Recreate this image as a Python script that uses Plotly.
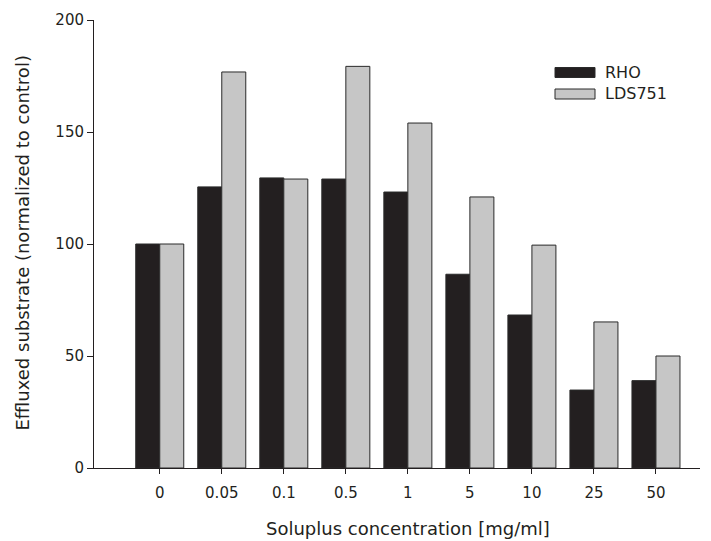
import plotly.graph_objects as go

categories = ["0", "0.05", "0.1", "0.5", "1", "5", "10", "25", "50"]
rho = [100, 125.5, 129.5, 129, 123.2, 86.5, 68.3, 34.8, 39]
lds751 = [100, 176.8, 129, 179.3, 154, 121, 99.5, 65.2, 50]
series_names = ["RHO", "LDS751"]
colors = ["#231f20", "#c6c6c6"]

fig = go.Figure()
for name, vals, col in zip(series_names, [rho, lds751], colors):
    fig.add_trace(go.Bar(
        x=categories, y=vals, name=name,
        marker=dict(color=col, line=dict(color="#2a2a2a", width=1)),
        showlegend=False,
    ))

font_family = "DejaVu Sans, Verdana, sans-serif"
# page body has an 8px margin, so the figure is offset by 8px
fig.update_layout(
    width=703, height=533,
    margin=dict(l=86, r=11, t=12, b=73, autoexpand=False),
    paper_bgcolor="white", plot_bgcolor="white",
    barmode="group", bargap=0.226, bargroupgap=0,
    font=dict(family=font_family, size=15, color="#231f20"),
    xaxis=dict(
        type="category", range=[-1.06, 8.71], automargin=False,
        showline=True, linecolor="#231f20", linewidth=1,
        ticks="outside", ticklen=5, tickcolor="#231f20",
        ticklabelstandoff=6,
        showgrid=False, zeroline=False,
    ),
    yaxis=dict(
        range=[0, 200], tickvals=[0, 50, 100, 150, 200], automargin=False,
        showline=True, linecolor="#231f20", linewidth=1,
        ticks="outside", ticklen=6, tickcolor="#231f20",
        showgrid=False, zeroline=False,
    ),
)

def px(x):
    return (x - 94) / 606

def py(y):
    return (468 - y) / 448

# axis titles
fig.add_annotation(xref="paper", yref="paper", x=px(408), y=py(528),
                   text="Soluplus concentration [mg/ml]", showarrow=False,
                   xanchor="center", yanchor="middle", font=dict(size=18))
fig.add_annotation(xref="paper", yref="paper", x=px(22), y=py(243.5),
                   text="Effluxed substrate (normalized to control)", showarrow=False,
                   textangle=-90, xanchor="center", yanchor="middle", font=dict(size=18))

# manual legend
leg_y = [72.5, 94]
for name, col, yc in zip(series_names, colors, leg_y):
    fig.add_shape(type="rect", xref="paper", yref="paper",
                  x0=px(555), x1=px(595),
                  y0=py(yc + 5), y1=py(yc - 5),
                  fillcolor=col, line=dict(color="#2a2a2a", width=1))
    fig.add_annotation(xref="paper", yref="paper",
                       x=px(603), y=py(yc),
                       text=name, showarrow=False, xanchor="left", yanchor="middle",
                       font=dict(size=16))

fig.write_html("out.html")
